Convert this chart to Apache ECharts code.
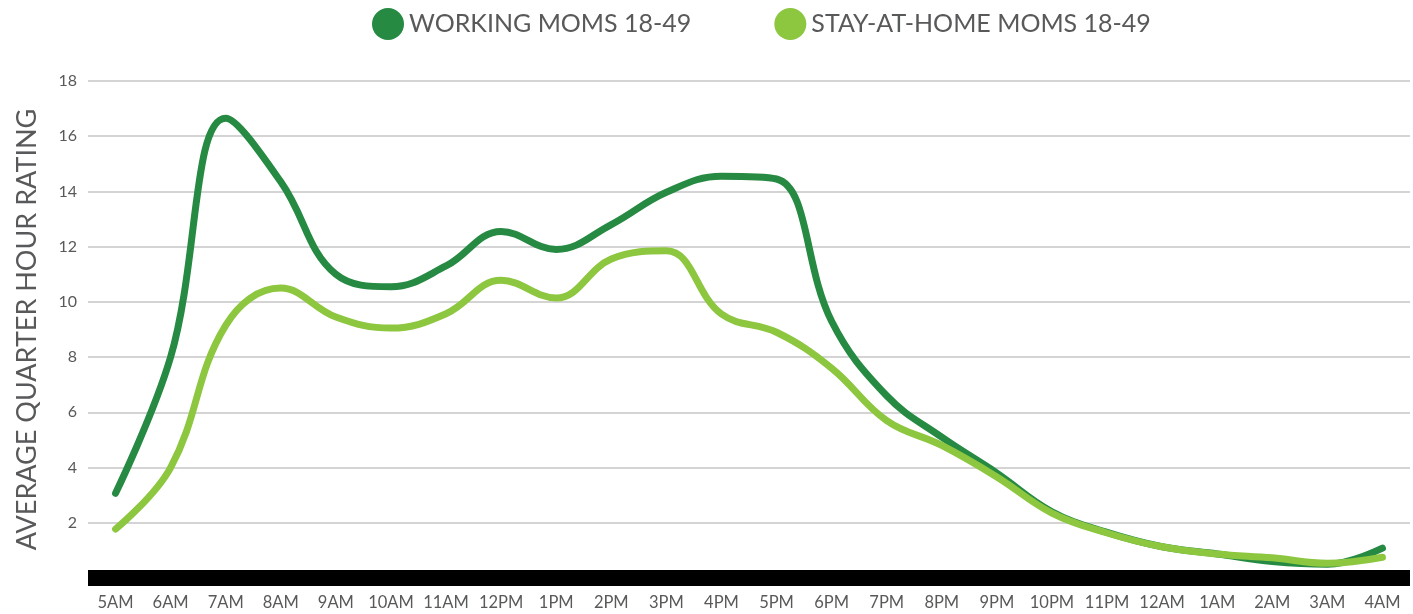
<!DOCTYPE html>
<html>
<head>
<meta charset="utf-8">
<script src="https://cdn.jsdelivr.net/npm/echarts@6/dist/echarts.min.js"></script>
<style>
html,body{margin:0;padding:0;background:#fff;}
#chart{width:1413px;height:614px;}
</style>
</head>
<body>
<div id="chart"></div>
<script>
const hours = ['5AM','6AM','7AM','8AM','9AM','10AM','11AM','12PM','1PM','2PM','3PM','4PM','5PM','6PM','7PM','8PM','9PM','10PM','11PM','12AM','1AM','2AM','3AM','4AM'];
const workingMoms = [3.07, 8.0, 16.65, 14.35, 11.0, 10.55, 11.3, 12.55, 11.9, 12.8, 13.97, 14.55, 14.45, 9.3, 6.6, 5.1, 3.8, 2.4, 1.65, 1.13, 0.87, 0.6, 0.5, 1.08];
const stayAtHomeMoms = [1.77, 4.0, 9.15, 10.5, 9.45, 9.05, 9.57, 10.78, 10.14, 11.55, 11.85, 9.56, 8.9, 7.6, 5.7, 4.8, 3.66, 2.35, 1.63, 1.13, 0.87, 0.73, 0.53, 0.75];
const seriesNames = ['WORKING MOMS 18-49', 'STAY-AT-HOME MOMS 18-49'];
const yTicks = [0, 18, 2];

const FONT = 'Lato';
const TEXT = '#58595b';
const chart = echarts.init(document.getElementById('chart'));
chart.setOption({
  animation: false,
  textStyle: {fontFamily: FONT},
  legend: {
    top: 3, left: 367,
    icon: 'circle', itemWidth: 32, itemHeight: 32, itemGap: 83,
    textStyle: {fontSize: 25, color: TEXT, fontFamily: FONT},
    data: seriesNames
  },
  grid: {left: 88, right: 3, top: 81, bottom: 36},
  xAxis: {
    type: 'category', data: hours, boundaryGap: true,
    axisLine: {lineStyle: {color: '#000', width: 16, cap: 'butt'}},
    axisTick: {show: false},
    axisLabel: {color: TEXT, fontSize: 16.5, margin: 16, interval: 0, fontFamily: FONT}
  },
  yAxis: {
    type: 'value', min: yTicks[0], max: yTicks[1], interval: yTicks[2],
    name: 'AVERAGE QUARTER HOUR RATING', nameLocation: 'middle', nameGap: 47,
    nameTextStyle: {fontSize: 27, color: TEXT, fontFamily: FONT},
    axisLine: {show: false}, axisTick: {show: false},
    axisLabel: {color: TEXT, fontSize: 16, margin: 11, showMinLabel: false,
      formatter: v => v === 0 ? '' : String(v)},
    splitLine: {lineStyle: {color: '#d4d4d4', width: 2}}
  },
  series: [
    {name: seriesNames[0], type: 'line', data: workingMoms, smooth: 0.4, showSymbol: false,
     itemStyle: {color: '#268a43'}, lineStyle: {color: '#268a43', width: 7, cap: 'round'}, z: 3},
    {name: seriesNames[1], type: 'line', data: stayAtHomeMoms, smooth: 0.4, showSymbol: false,
     itemStyle: {color: '#8dc63f'}, lineStyle: {color: '#8dc63f', width: 7, cap: 'round'}, z: 4}
  ]
});
</script>
</body>
</html>
